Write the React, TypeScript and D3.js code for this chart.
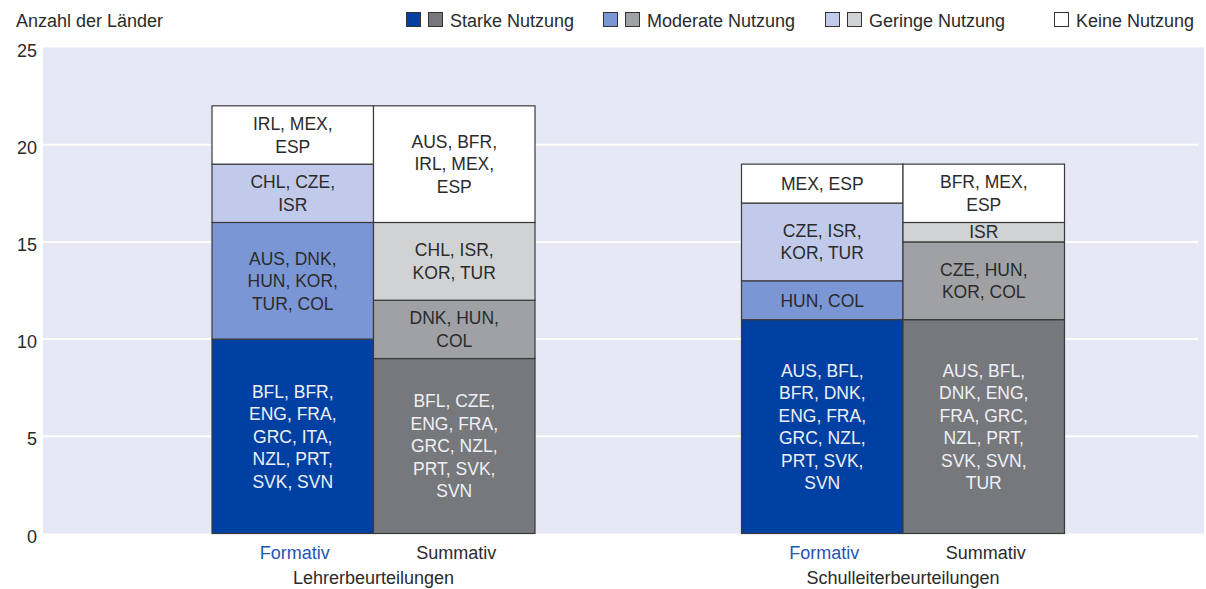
import { useEffect, useRef } from 'react'
import * as d3 from 'd3'

const GROUPS = ['Lehrerbeurteilungen', 'Schulleiterbeurteilungen']
const TYPES = ['Formativ', 'Summativ']
const LEVELS = ['Starke Nutzung', 'Moderate Nutzung', 'Geringe Nutzung', 'Keine Nutzung']
const Y_TICKS = [0, 5, 10, 15, 20, 25]

// counts per level (Starke, Moderate, Geringe, Keine)
const LEHRER_FORMATIV = [10, 6, 3, 3]
const LEHRER_SUMMATIV = [9, 3, 4, 6]
const SCHULLEITER_FORMATIV = [11, 2, 4, 2]
const SCHULLEITER_SUMMATIV = [11, 4, 1, 3]

const LEHRER_FORMATIV_LABELS = [
  'BFL, BFR,|ENG, FRA,|GRC, ITA,|NZL, PRT,|SVK, SVN',
  'AUS, DNK,|HUN, KOR,|TUR, COL',
  'CHL, CZE,|ISR',
  'IRL, MEX,|ESP'
]
const LEHRER_SUMMATIV_LABELS = [
  'BFL, CZE,|ENG, FRA,|GRC, NZL,|PRT, SVK,|SVN',
  'DNK, HUN,|COL',
  'CHL, ISR,|KOR, TUR',
  'AUS, BFR,|IRL, MEX,|ESP'
]
const SCHULLEITER_FORMATIV_LABELS = [
  'AUS, BFL,|BFR, DNK,|ENG, FRA,|GRC, NZL,|PRT, SVK,|SVN',
  'HUN, COL',
  'CZE, ISR,|KOR, TUR',
  'MEX, ESP'
]
const SCHULLEITER_SUMMATIV_LABELS = [
  'AUS, BFL,|DNK, ENG,|FRA, GRC,|NZL, PRT,|SVK, SVN,|TUR',
  'CZE, HUN,|KOR, COL',
  'ISR',
  'BFR, MEX,|ESP'
]

const FORMATIV_COLORS = ['#0040a2', '#7b96d4', '#c1caea', '#ffffff']
const SUMMATIV_COLORS = ['#77787c', '#a0a1a5', '#d1d2d4', '#ffffff']

const FONT = '"Liberation Sans", Arial, sans-serif'
const TEXT = '#2b2b2b'

type Segment = { y0: number; y1: number; color: string; label: string; level: number }

const App = () => {
  const ref = useRef<SVGSVGElement | null>(null)

  useEffect(() => {
    const svg = d3.select(ref.current)
    svg.selectAll('*').remove()

    const plot = { left: 43, right: 1204, top: 47.5, bottom: 533.5 }
    const barW = 161.5

    const y = d3.scaleLinear().domain([0, 25]).range([plot.bottom, plot.top])
    const x = d3.scalePoint<string>().domain(GROUPS).range([373.5, 903])

    const series: Record<string, Record<string, { values: number[]; labels: string[] }>> = {
      [GROUPS[0]]: {
        Formativ: { values: LEHRER_FORMATIV, labels: LEHRER_FORMATIV_LABELS },
        Summativ: { values: LEHRER_SUMMATIV, labels: LEHRER_SUMMATIV_LABELS }
      },
      [GROUPS[1]]: {
        Formativ: { values: SCHULLEITER_FORMATIV, labels: SCHULLEITER_FORMATIV_LABELS },
        Summativ: { values: SCHULLEITER_SUMMATIV, labels: SCHULLEITER_SUMMATIV_LABELS }
      }
    }

    // background
    svg.append('rect')
      .attr('x', plot.left).attr('y', y(25))
      .attr('width', plot.right - plot.left).attr('height', y(0) - y(25))
      .attr('fill', '#e6e8f5')

    svg.selectAll('.grid')
      .data(Y_TICKS.filter(t => t > 0 && t < 25))
      .enter().append('line')
      .attr('x1', plot.left).attr('x2', 1198)
      .attr('y1', d => y(d)).attr('y2', d => y(d))
      .attr('stroke', '#ffffff').attr('stroke-width', 2)

    svg.selectAll('.tick')
      .data(Y_TICKS)
      .enter().append('text')
      .attr('x', 37).attr('y', d => y(d) + 3)
      .attr('text-anchor', 'end').attr('dominant-baseline', 'central')
      .style('font-family', FONT).style('font-size', '18px').style('fill', TEXT)
      .text(d => d)

    svg.append('text')
      .attr('x', 16).attr('y', 27)
      .style('font-family', FONT).style('font-size', '18px').style('fill', TEXT)
      .text('Anzahl der Länder')

    // bars
    GROUPS.forEach(g => {
      const cx = x(g) as number
      TYPES.forEach((t, ti) => {
        const bx = ti === 0 ? cx - barW : cx
        const colors = ti === 0 ? FORMATIV_COLORS : SUMMATIV_COLORS
        const { values, labels } = series[g][t]
        let acc = 0
        const segs: Segment[] = values.map((v, i) => {
          const s = { y0: acc, y1: acc + v, color: colors[i], label: labels[i], level: i }
          acc += v
          return s
        })
        const bar = svg.append('g')
        bar.selectAll('rect')
          .data(segs)
          .enter().append('rect')
          .attr('x', bx).attr('width', barW)
          .attr('y', d => y(d.y1)).attr('height', d => y(d.y0) - y(d.y1))
          .attr('fill', d => d.color)
          .attr('stroke', '#3a3a3a').attr('stroke-width', 1.2)

        bar.selectAll('text')
          .data(segs)
          .enter().append('text')
          .attr('text-anchor', 'middle')
          .style('font-family', FONT).style('font-size', '17.5px')
          .style('fill', d => d.level === 0 ? '#eef0f6' : TEXT)
          .each(function (d) {
            const lines = d.label.split('|')
            const lh = 22.5
            const mid = (y(d.y0) + y(d.y1)) / 2
            const start = mid - (lines.length - 1) * lh / 2
            d3.select(this).selectAll('tspan')
              .data(lines)
              .enter().append('tspan')
              .attr('x', bx + barW / 2)
              .attr('y', (_, i) => start + i * lh)
              .attr('dy', '0.36em')
              .text(l => l)
          })

        svg.append('text')
          .attr('x', bx + barW / 2 + 2).attr('y', 559)
          .attr('text-anchor', 'middle')
          .style('font-family', FONT).style('font-size', '18px')
          .style('fill', ti === 0 ? '#2456b3' : TEXT)
          .text(t)
      })

      svg.append('text')
        .attr('x', cx).attr('y', 584)
        .attr('text-anchor', 'middle')
        .style('font-family', FONT).style('font-size', '18px').style('fill', TEXT)
        .text(g)
    })

    // legend
    const legendX = [406, 603, 825, 1054]
    const legend = svg.selectAll('.legend')
      .data(LEVELS)
      .enter().append('g')
      .attr('transform', (_, i) => `translate(${legendX[i]},0)`)

    legend.each(function (d, i) {
      const gsel = d3.select(this)
      const swatches = i < 3 ? [FORMATIV_COLORS[i], SUMMATIV_COLORS[i]] : [FORMATIV_COLORS[i]]
      swatches.forEach((c, k) => {
        gsel.append('rect')
          .attr('x', k * 22 + 0.5).attr('y', 12.5)
          .attr('width', 14).attr('height', 14)
          .attr('fill', c).attr('stroke', '#333').attr('stroke-width', 1)
      })
      gsel.append('text')
        .attr('x', swatches.length * 22)
        .attr('y', 27)
        .style('font-family', FONT).style('font-size', '18px').style('fill', TEXT)
        .text(d)
    })
  }, [])

  return (
    <svg
      ref={ref}
      width={1206}
      height={589}
      style={{ position: 'absolute', left: 0, top: 0, background: '#ffffff' }}
    />
  )
}

export default App
